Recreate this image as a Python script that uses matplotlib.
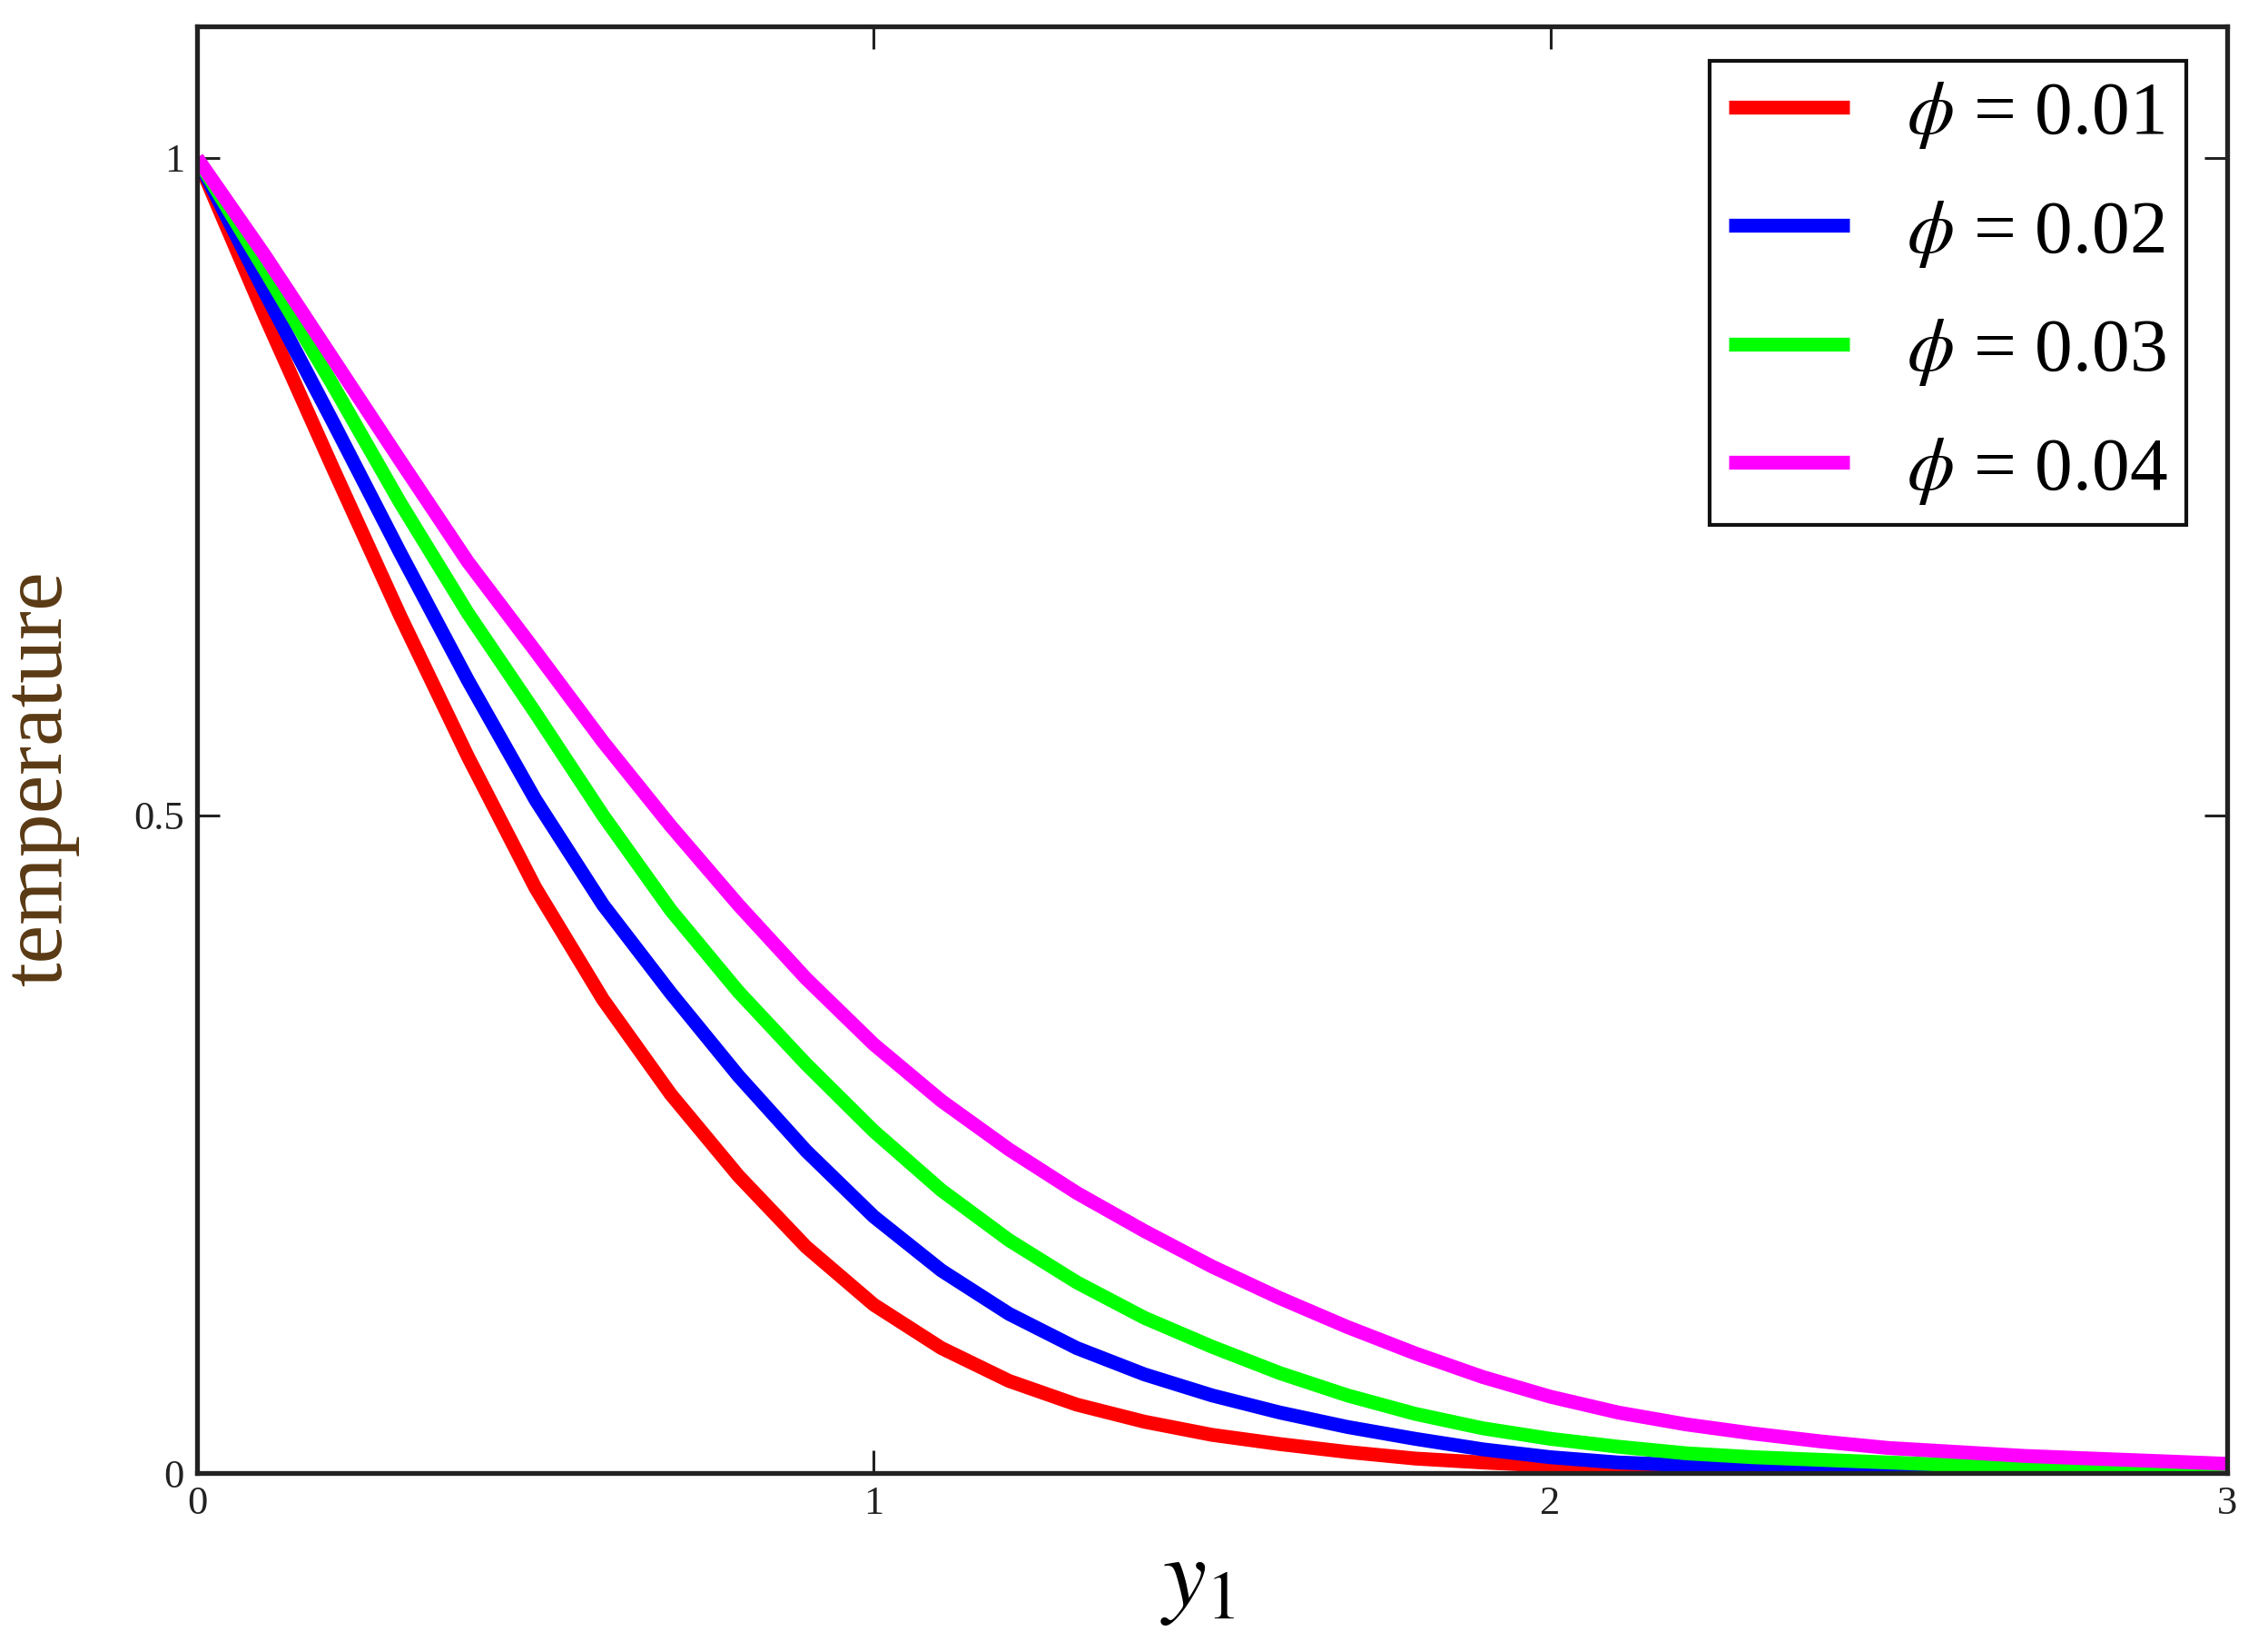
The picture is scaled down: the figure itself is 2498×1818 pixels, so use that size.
import matplotlib
matplotlib.use("Agg")
import matplotlib.pyplot as plt
import numpy as np

# data
y1 = [0.0, 0.1, 0.2, 0.3, 0.4, 0.5, 0.6, 0.7, 0.8, 0.9, 1.0,
      1.1, 1.2, 1.3, 1.4, 1.5, 1.6, 1.7, 1.8, 1.9, 2.0,
      2.1, 2.2, 2.3, 2.4, 2.5, 2.6, 2.7, 2.8, 2.9, 3.0]

temp_001 = [1.0, 0.88, 0.765, 0.652, 0.545, 0.445, 0.36, 0.288, 0.226, 0.172, 0.128,
            0.095, 0.07, 0.052, 0.039, 0.029, 0.022, 0.016, 0.011, 0.008, 0.0055,
            0.0035, 0.002, 0.001, 0.0, 0.0, 0.0, 0.0, 0.0, 0.0, 0.0]
temp_002 = [1.0, 0.898, 0.8, 0.7, 0.603, 0.512, 0.432, 0.365, 0.302, 0.245, 0.195,
            0.154, 0.121, 0.095, 0.075, 0.059, 0.046, 0.035, 0.026, 0.018, 0.012,
            0.008, 0.006, 0.004, 0.003, 0.002, 0.001, 0.0005, 0.0, 0.0, 0.0]
temp_003 = [1.0, 0.915, 0.828, 0.738, 0.654, 0.578, 0.5, 0.428, 0.366, 0.311, 0.26,
            0.215, 0.177, 0.145, 0.118, 0.096, 0.076, 0.059, 0.045, 0.034, 0.026,
            0.02, 0.015, 0.012, 0.01, 0.008, 0.006, 0.004, 0.003, 0.002, 0.001]
temp_004 = [1.0, 0.926, 0.848, 0.77, 0.693, 0.625, 0.556, 0.492, 0.432, 0.376, 0.326,
            0.283, 0.246, 0.213, 0.184, 0.157, 0.133, 0.111, 0.091, 0.073, 0.058,
            0.046, 0.037, 0.03, 0.024, 0.019, 0.016, 0.013, 0.011, 0.009, 0.007]

labels = [r"$\phi$ = 0.01", r"$\phi$ = 0.02", r"$\phi$ = 0.03", r"$\phi$ = 0.04"]
colors = ["#ff0000", "#0000ff", "#00ff00", "#ff00ff"]

plt.rcParams['font.family'] = ['Liberation Serif', 'DejaVu Serif']
plt.rcParams['mathtext.fontset'] = 'stix'

fig = plt.figure(figsize=(24.98, 18.18), dpi=100)
ax = fig.add_axes([217 / 2498, 1 - 1622 / 1818, 2236 / 2498, 1593 / 1818])

series = [temp_001, temp_002, temp_003, temp_004]
for vals, lab, col in zip(series, labels, colors):
    ax.plot(y1, vals, color=col, lw=11, label=lab, solid_capstyle='butt')

ax.set_xlim(0, 3)
ax.set_ylim(0, 1.1)
ax.set_xticks([0, 1, 2, 3])
ax.set_xticklabels(["0", "1", "2", "3"])
ax.set_yticks([0, 0.5, 1])
ax.set_yticklabels(["0", "0.5", "1"])
ax.tick_params(direction='in', length=18, width=2.2, top=True, right=True,
               labelsize=32, colors='#222222', pad=10)
for sp in ax.spines.values():
    sp.set_linewidth(3.8)
    sp.set_color('#222222')

ax.set_xlabel(r"$y_1$", fontsize=78)
ax.xaxis.set_label_coords(0.493, -0.045)
ax.set_ylabel("temperature", fontsize=69, color='#5a3a14')
ax.yaxis.set_label_coords(-0.058, 0.48)

leg = ax.legend(loc='upper right', bbox_to_anchor=(0.980, 0.976), borderaxespad=0,
                fontsize=60, handlelength=1.6, handletextpad=0.75,
                borderpad=0.25, labelspacing=0.63, fancybox=False,
                edgecolor='#111111', framealpha=1)
leg.get_frame().set_linewidth(3)

fig.savefig("out.png", dpi=100)
